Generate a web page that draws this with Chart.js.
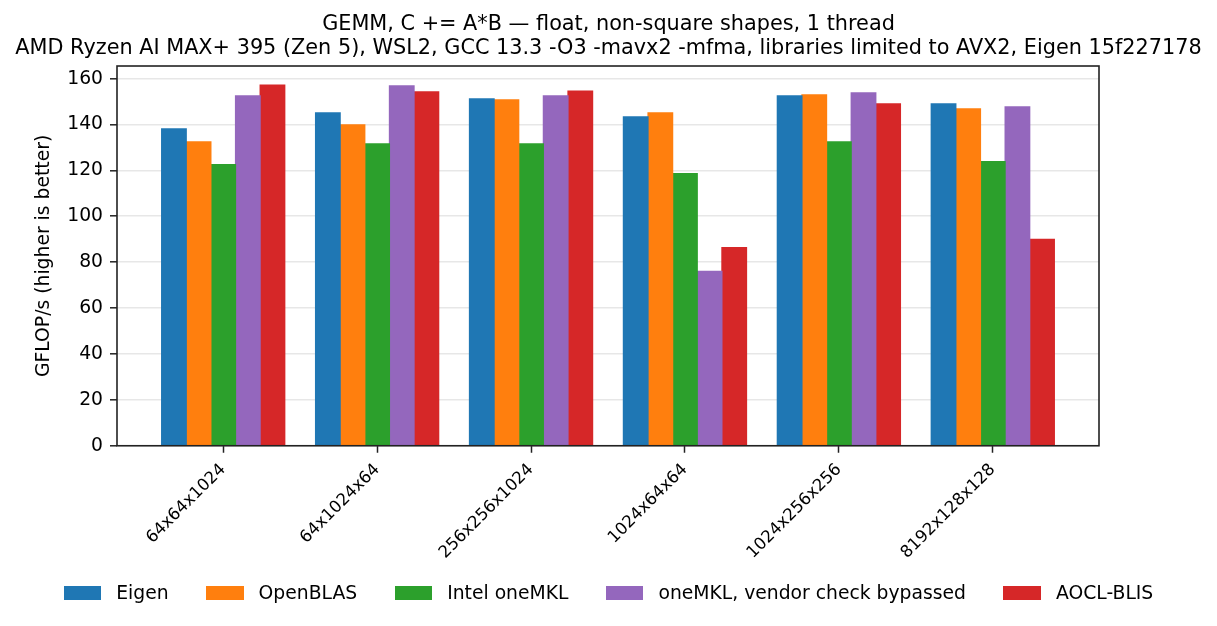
<!DOCTYPE html>
<html>
<head>
<meta charset="utf-8">
<script src="https://cdn.jsdelivr.net/npm/chart.js@4/dist/chart.umd.min.js"></script>
<style>
  html, body { margin: 0; padding: 0; background: #fff; }
  #wrap { width: 1217px; height: 626px; position: relative; }
  #legend {
    position: absolute; left: 0; top: 579px; width: 1217px; height: 28px;
    display: flex; justify-content: center; align-items: center;
    font: 18.75px 'DejaVu Sans', sans-serif; color: #000; line-height: 28px;
  }
  #legend .item { display: flex; align-items: center; margin: 0 18.75px; white-space: nowrap; }
  #legend .swatch { width: 37.5px; height: 13.5px; margin-right: 15px; }
</style>
</head>
<body>
<div id="wrap"><canvas id="gemm"></canvas><div id="legend"></div></div>
<script>
const shapes = ['64x64x1024', '64x1024x64', '256x256x1024', '1024x64x64', '1024x256x256', '8192x128x128'];
const eigen = [138.1, 145.1, 151.2, 143.3, 152.5, 149.0];
const openblas = [132.5, 139.9, 150.7, 145.1, 152.9, 146.8];
const onemkl = [122.5, 131.6, 131.6, 118.6, 132.5, 123.8];
const onemklBypass = [152.5, 156.8, 152.5, 76.0, 153.8, 147.7];
const aoclBlis = [157.2, 154.2, 154.6, 86.4, 149.0, 89.9];
const yTicks = [0, 20, 40, 60, 80, 100, 120, 140, 160];

const series = [
  { label: 'Eigen', values: eigen, color: '#1f77b4' },
  { label: 'OpenBLAS', values: openblas, color: '#ff7f0e' },
  { label: 'Intel oneMKL', values: onemkl, color: '#2ca02c' },
  { label: 'oneMKL, vendor check bypassed', values: onemklBypass, color: '#9467bd' },
  { label: 'AOCL-BLIS', values: aoclBlis, color: '#d62728' }
];

Chart.defaults.font.family = "'DejaVu Sans', sans-serif";
Chart.defaults.color = '#000';

const ink = '#222';

// matplotlib-style box around the axes
const frame = {
  id: 'frame',
  afterDraw(chart) {
    const { ctx, chartArea: a } = chart;
    ctx.save();
    ctx.strokeStyle = ink;
    ctx.lineWidth = 1.6;
    ctx.strokeRect(a.left, a.top, a.right - a.left, a.bottom - a.top);
    ctx.restore();
  }
};

const chart = new Chart(document.getElementById('gemm'), {
  type: 'bar',
  data: {
    datasets: series.map((s) => ({
      label: s.label,
      data: s.values.map((v, i) => ({ x: i, y: v })),
      backgroundColor: s.color,
      borderWidth: 0,
      inflateAmount: 0.6
    }))
  },
  options: {
    responsive: true,
    maintainAspectRatio: false,
    animation: false,
    categoryPercentage: 0.8,
    barPercentage: 1,
    layout: { padding: { left: 0, right: 0, top: 0, bottom: 30.25 } },
    plugins: {
      tooltip: { enabled: false },
      legend: { display: false },
      title: {
        display: true,
        text: ['GEMM, C += A*B \u2014 float, non-square shapes, 1 thread',
               'AMD Ryzen AI MAX+ 395 (Zen 5), WSL2, GCC 13.3 -O3 -mavx2 -mfma, libraries limited to AVX2, Eigen 15f227178'],
        font: { size: 20.8, weight: 'normal', lineHeight: 1.154 },
        color: '#000',
        padding: { top: 12.8, bottom: 5.2 }
      }
    },
    scales: {
      x: {
        type: 'linear',
        min: -0.69,
        max: 5.69,
        offset: false,
        afterBuildTicks: (axis) => { axis.ticks = shapes.map((s, i) => ({ value: i })); },
        afterFit: (axis) => { axis.height = 150; },
        ticks: {
          autoSkip: false,
          minRotation: 45,
          maxRotation: 45,
          padding: 7,
          font: { size: 16.67 },
          callback: (v) => shapes[v]
        },
        grid: { offset: false, drawOnChartArea: false, tickLength: 7, tickColor: ink, tickWidth: 1.5 },
        border: { display: false }
      },
      y: {
        min: 0,
        max: 165.5,
        z: 1,
        afterBuildTicks: (axis) => { axis.ticks = yTicks.map((v) => ({ value: v })); },
        afterFit: (axis) => { axis.width = 117; },
        ticks: { font: { size: 18.75 }, padding: 7 },
        grid: { color: 'rgba(176,176,176,0.3)', lineWidth: 1.6, tickLength: 7, tickColor: ink, tickWidth: 1.5 },
        border: { display: false },
        title: {
          display: true,
          text: 'GFLOP/s (higher is better)',
          font: { size: 18.75 },
          padding: { top: 33, bottom: 0 }
        }
      },
      gap: {
        type: 'linear',
        position: 'right',
        display: true,
        afterFit: (axis) => { axis.width = 118; },
        ticks: { display: false },
        grid: { display: false },
        border: { display: false }
      }
    }
  },
  plugins: [frame]
});

// legend laid out like matplotlib's (wider handle/text gaps than Chart.js allows)
const legendEl = document.getElementById('legend');
chart.data.datasets.forEach((ds) => {
  const item = document.createElement('span');
  item.className = 'item';
  const sw = document.createElement('span');
  sw.className = 'swatch';
  sw.style.background = ds.backgroundColor;
  item.appendChild(sw);
  item.appendChild(document.createTextNode(ds.label));
  legendEl.appendChild(item);
});
</script>
</body>
</html>
